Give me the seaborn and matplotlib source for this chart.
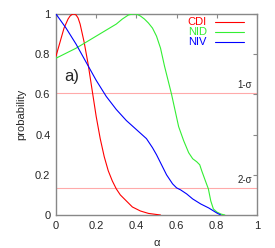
import numpy as np
import pandas as pd
import matplotlib
matplotlib.use("Agg")
import matplotlib.pyplot as plt
import seaborn as sns

# CDI (red)
cdi_x = [0.0, 0.02, 0.04, 0.06, 0.07, 0.08, 0.09, 0.10, 0.11, 0.12, 0.14, 0.16, 0.18, 0.20, 0.22, 0.24, 0.26, 0.28, 0.30, 0.32, 0.35, 0.38, 0.42, 0.46, 0.52]
cdi_y = [0.79, 0.86, 0.93, 0.975, 0.99, 0.998, 1.0, 0.995, 0.98, 0.95, 0.86, 0.75, 0.62, 0.49, 0.38, 0.29, 0.22, 0.17, 0.13, 0.10, 0.07, 0.04, 0.02, 0.008, 0.0]
# NID (green)
nid_x = [0.0, 0.05, 0.10, 0.15, 0.20, 0.25, 0.30, 0.33, 0.36, 0.38, 0.40, 0.42, 0.44, 0.46, 0.48, 0.50, 0.52, 0.54, 0.575, 0.61, 0.635, 0.66, 0.68, 0.70, 0.715, 0.725, 0.745, 0.758, 0.77, 0.783, 0.80, 0.82, 0.84]
nid_y = [0.78, 0.805, 0.83, 0.86, 0.89, 0.92, 0.95, 0.975, 0.995, 1.0, 1.0, 0.99, 0.975, 0.955, 0.93, 0.89, 0.83, 0.74, 0.60, 0.44, 0.37, 0.31, 0.28, 0.265, 0.25, 0.22, 0.165, 0.13, 0.07, 0.03, 0.015, 0.005, 0.0]
# NIV (blue)
niv_x = [0.0, 0.05, 0.10, 0.15, 0.20, 0.25, 0.30, 0.35, 0.40, 0.45, 0.48, 0.50, 0.53, 0.55, 0.58, 0.60, 0.62, 0.65, 0.68, 0.72, 0.76, 0.80, 0.82]
niv_y = [1.0, 0.93, 0.85, 0.76, 0.67, 0.59, 0.525, 0.47, 0.425, 0.38, 0.335, 0.30, 0.24, 0.20, 0.155, 0.135, 0.125, 0.105, 0.08, 0.055, 0.035, 0.01, 0.0]

sigma_levels = [0.6065, 0.1353]
sigma_labels = ["1-σ", "2-σ"]
x_ticks = [0, 0.2, 0.4, 0.6, 0.8, 1]
x_ticklabels = ["0", "0.2", "0.4", "0.6", "0.8", "1"]
y_ticks = [0, 0.2, 0.4, 0.6, 0.8, 1]
y_ticklabels = ["0", "0.2", "0.4", "0.6", "0.8", "1"]

df = pd.concat([
    pd.DataFrame({"alpha": cdi_x, "p": cdi_y, "series": "CDI"}),
    pd.DataFrame({"alpha": nid_x, "p": nid_y, "series": "NID"}),
    pd.DataFrame({"alpha": niv_x, "p": niv_y, "series": "NIV"}),
], ignore_index=True)

sns.set_style("white")
plt.rcParams["font.family"] = ["Liberation Sans", "DejaVu Sans"]

fig = plt.figure(figsize=(2.75, 2.48), dpi=100)
ax = fig.add_axes([0.2036, 0.133, 0.731, 0.8105])

for lvl in sigma_levels:
    ax.axhline(lvl, color="#ffaaaa", lw=0.8, zorder=1)

palette = {"CDI": "#ff0000", "NID": "#33ee33", "NIV": "#0000ff"}
sns.lineplot(data=df, x="alpha", y="p", hue="series", palette=palette,
             sort=False, lw=0.8, ax=ax, legend=False, zorder=3)

ax.set_xlim(0, 1)
ax.set_ylim(0, 1)
ax.set_xticks(x_ticks)
ax.set_xticklabels(x_ticklabels)
ax.set_yticks(y_ticks)
ax.set_yticklabels(y_ticklabels)
ax.tick_params(direction="in", length=3, color="#888888", labelsize=8,
               top=True, right=True, pad=4)
for s in ax.spines.values():
    s.set_color("#888888")
    s.set_linewidth(1.0)
ax.set_xlabel("α", fontsize=8, labelpad=5)
ax.set_ylabel("probability", fontsize=8, labelpad=6)

# legend (text right-aligned, line sample to the right)
leg_y = [0.96, 0.91, 0.86]
for name, yy in zip(["CDI", "NID", "NIV"], leg_y):
    ax.text(0.75, yy, name, color=palette[name], fontsize=8, ha="right", va="center")
    ax.plot([0.79, 0.935], [yy, yy], color=palette[name], lw=0.8)

ax.text(0.04, 0.69, "a)", fontsize=12, ha="left", va="center")
ax.text(0.975, sigma_levels[0] + 0.015, sigma_labels[0], fontsize=7, ha="right", va="bottom")
ax.text(0.975, sigma_levels[1] + 0.015, sigma_labels[1], fontsize=7, ha="right", va="bottom")

fig.savefig("out.png", dpi=100)
